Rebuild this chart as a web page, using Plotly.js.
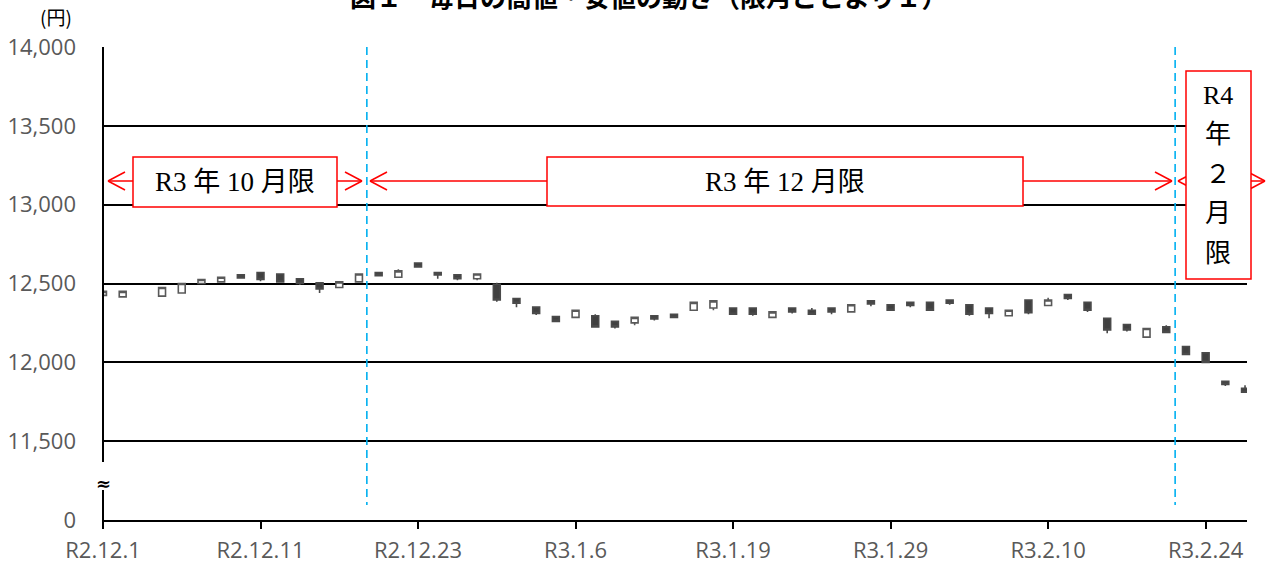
<!DOCTYPE html>
<html>
<head>
<meta charset="utf-8">
<script src="https://cdn.plot.ly/plotly-3.0.1.min.js"></script>
<style>
html,body{margin:0;padding:0;background:#fff;}
#chart{width:1273px;height:566px;}
</style>
</head>
<body>
<div id="chart"></div>
<script>
// Trading days (R2.12.1 .. R3.2.26)
const dates = [
 "R2.12.1","R2.12.2","R2.12.3","R2.12.4","R2.12.7","R2.12.8","R2.12.9","R2.12.10","R2.12.11",
 "R2.12.14","R2.12.15","R2.12.16","R2.12.17","R2.12.18","R2.12.21","R2.12.22","R2.12.23",
 "R2.12.24","R2.12.25","R2.12.28","R2.12.29","R2.12.30",
 "R3.1.4","R3.1.5","R3.1.6","R3.1.7","R3.1.8","R3.1.12","R3.1.13","R3.1.14","R3.1.15","R3.1.18","R3.1.19",
 "R3.1.20","R3.1.21","R3.1.22","R3.1.25","R3.1.26","R3.1.27","R3.1.28","R3.1.29",
 "R3.2.1","R3.2.2","R3.2.3","R3.2.4","R3.2.5","R3.2.8","R3.2.9","R3.2.10",
 "R3.2.12","R3.2.15","R3.2.16","R3.2.17","R3.2.18","R3.2.19","R3.2.22","R3.2.24","R3.2.25","R3.2.26"
];
const openV  = [12425,12415,null,12420,12440,12500,12510,12555,12570,12560,12530,12505,12475,12510,12570,12540,12630,12570,12555,12530,12495,12405,12350,12290,12285,12295,12260,12250,12295,12305,12330,12345,12345,12345,12285,12345,12330,12345,12320,12390,12365,12380,12380,12395,12365,12345,12295,12395,12360,12430,12380,12280,12240,12160,12225,12100,12060,11880,11835];
const highV  = [12455,12450,null,12475,12505,12530,12545,12555,12570,12560,12530,12505,12515,12560,12570,12590,12630,12570,12555,12560,12505,12405,12350,12290,12330,12305,12260,12285,12295,12305,12380,12390,12345,12345,12320,12345,12345,12345,12365,12390,12365,12380,12380,12395,12365,12345,12330,12395,12410,12430,12380,12280,12240,12215,12235,12100,12060,11880,11855];
const lowV   = [12420,12415,null,12420,12440,12495,12510,12535,12515,12510,12490,12440,12475,12510,12545,12540,12605,12530,12520,12520,12385,12350,12300,12260,12285,12225,12215,12235,12265,12285,12330,12330,12305,12295,12285,12310,12305,12305,12320,12355,12330,12350,12330,12365,12295,12280,12295,12305,12360,12395,12320,12185,12195,12160,12190,12050,12000,11850,11810];
const closeV = [12450,12450,null,12475,12500,12525,12540,12535,12525,12510,12500,12465,12510,12560,12550,12580,12605,12555,12530,12560,12395,12375,12310,12260,12330,12225,12225,12285,12275,12285,12380,12390,12305,12305,12320,12320,12305,12320,12365,12370,12330,12360,12330,12375,12305,12310,12330,12315,12395,12405,12330,12205,12205,12215,12190,12050,12000,11860,11810];

const xTickVals = ["R2.12.1","R2.12.11","R2.12.23","R3.1.6","R3.1.19","R3.1.29","R3.2.10","R3.2.24"];
const yTickVals = [11000,11500,12000,12500,13000,13500,14000];
const yTickText = ["0","11,500","12,000","12,500","13,000","13,500","14,000"];
const contractLabels = ["R3 年 10 月限","R3 年 12 月限","R4|年|２|月|限"];
const rolloverPos = [13.4, 54.45];

// layout helpers: pixel -> paper
const W=1273,H=566;
const L=103, R=1247, T=47, B=520;
const px = x => (x-L)/(R-L);
const py = y => (B-y)/(B-T);

const trace = {
  type:'candlestick',
  x: dates, open: openV, high: highV, low: lowV, close: closeV,
  increasing:{line:{color:'#595959',width:1.6}, fillcolor:'#ffffff'},
  decreasing:{line:{color:'#4a4a4a',width:1.6}, fillcolor:'#404040'},
  whiskerwidth:0,
  hoverinfo:'x'
};

const red = '#ff0000';
const shapes = [];
// broken y-axis line
shapes.push({type:'line',xref:'paper',yref:'paper',x0:0,x1:0,y0:py(T),y1:py(462),line:{color:'#000',width:2}});
shapes.push({type:'line',xref:'paper',yref:'paper',x0:0,x1:0,y0:py(490),y1:py(527),line:{color:'#000',width:2}});
// rollover dashed lines
rolloverPos.forEach(p=>shapes.push({type:'line',xref:'x',yref:'paper',x0:p,x1:p,y0:py(T),y1:py(505),line:{color:'#00B0F0',width:1.6,dash:'8px,5px'}}));
function seg(x0,y0,x1,y1){shapes.push({type:'line',xref:'paper',yref:'paper',x0:px(x0),x1:px(x1),y0:py(y0),y1:py(y1),line:{color:red,width:1.5},layer:'above'});}
function rect(x0,y0,x1,y1){shapes.push({type:'rect',xref:'paper',yref:'paper',x0:px(x0),x1:px(x1),y0:py(y0),y1:py(y1),line:{color:red,width:1.5},fillcolor:'#fff',layer:'above'});}
function chevL(x,y){seg(x+17,y-9,x,y);seg(x,y,x+17,y+9);}
function chevR(x,y){seg(x-17,y-9,x,y);seg(x,y,x-17,y+9);}
const ay=181;
seg(108,ay,133,ay); seg(337,ay,362,ay); chevL(108,ay); chevR(362,ay); rect(133,157,337,207);
seg(370,ay,547,ay); seg(1023,ay,1172,ay); chevL(370,ay); chevR(1172,ay); rect(547,157,1023,206);
chevL(1178,ay); seg(1251,ay,1265,ay); chevR(1265,ay); rect(1186,71,1251,279);

const serif = '"Liberation Serif","DejaVu Serif","Noto Sans CJK JP",serif';
const sans = '"Noto Sans CJK JP",sans-serif';
function ann(text,x,y,size,family,extra){return Object.assign({text:text,xref:'paper',yref:'paper',x:px(x),y:py(y),xanchor:'center',yanchor:'middle',showarrow:false,font:{size:size,color:'#000',family:family}},extra||{});}
const annotations = [
  ann('図１　毎日の高値・安値の動き（限月ごとより１）',648,-5,26,sans,{font:{size:26,color:'#000',family:sans,weight:'bold'}}),
  ann('(円)',56,17,19,sans),
  ann('≈',103,483,18,'"DejaVu Sans",sans-serif',{font:{size:18,color:'#000',family:'"DejaVu Sans",sans-serif',weight:'bold'}}),
  ann(contractLabels[0],235,182,27,serif),
  ann(contractLabels[1],785,182,27,serif)
];
contractLabels[2].split('|').forEach((ch,i)=>annotations.push(ann(ch,1218,95+i*39.5,26,serif)));

const tickFont = {size:22,color:'#595959',family:'"Open Sans","Noto Sans",sans-serif'};
const layout = {
  width:W,height:H,
  margin:{l:L,r:W-R,t:T,b:H-B,pad:0},
  paper_bgcolor:'#fff',plot_bgcolor:'#fff',
  showlegend:false,
  boxgap:0.5,
  xaxis:{type:'category',categoryarray:dates,range:[0,58.1],rangeslider:{visible:false},
    tickmode:'array',tickvals:xTickVals,ticktext:xTickVals,
    ticks:'outside',ticklen:7,tickwidth:2,tickcolor:'#000',
    showline:true,linecolor:'#000',linewidth:2,showgrid:false,zeroline:false,
    tickfont:tickFont,ticklabelstandoff:3},
  yaxis:{range:[11000,14000],tickmode:'array',tickvals:yTickVals,ticktext:yTickText,
    showgrid:true,gridcolor:'#000',gridwidth:2,showline:false,zeroline:false,ticks:'',
    tickfont:tickFont,ticklabelstandoff:26},
  shapes:shapes,
  annotations:annotations
};
Plotly.newPlot('chart',[trace],layout,{displayModeBar:false,staticPlot:true});
</script>
</body>
</html>
